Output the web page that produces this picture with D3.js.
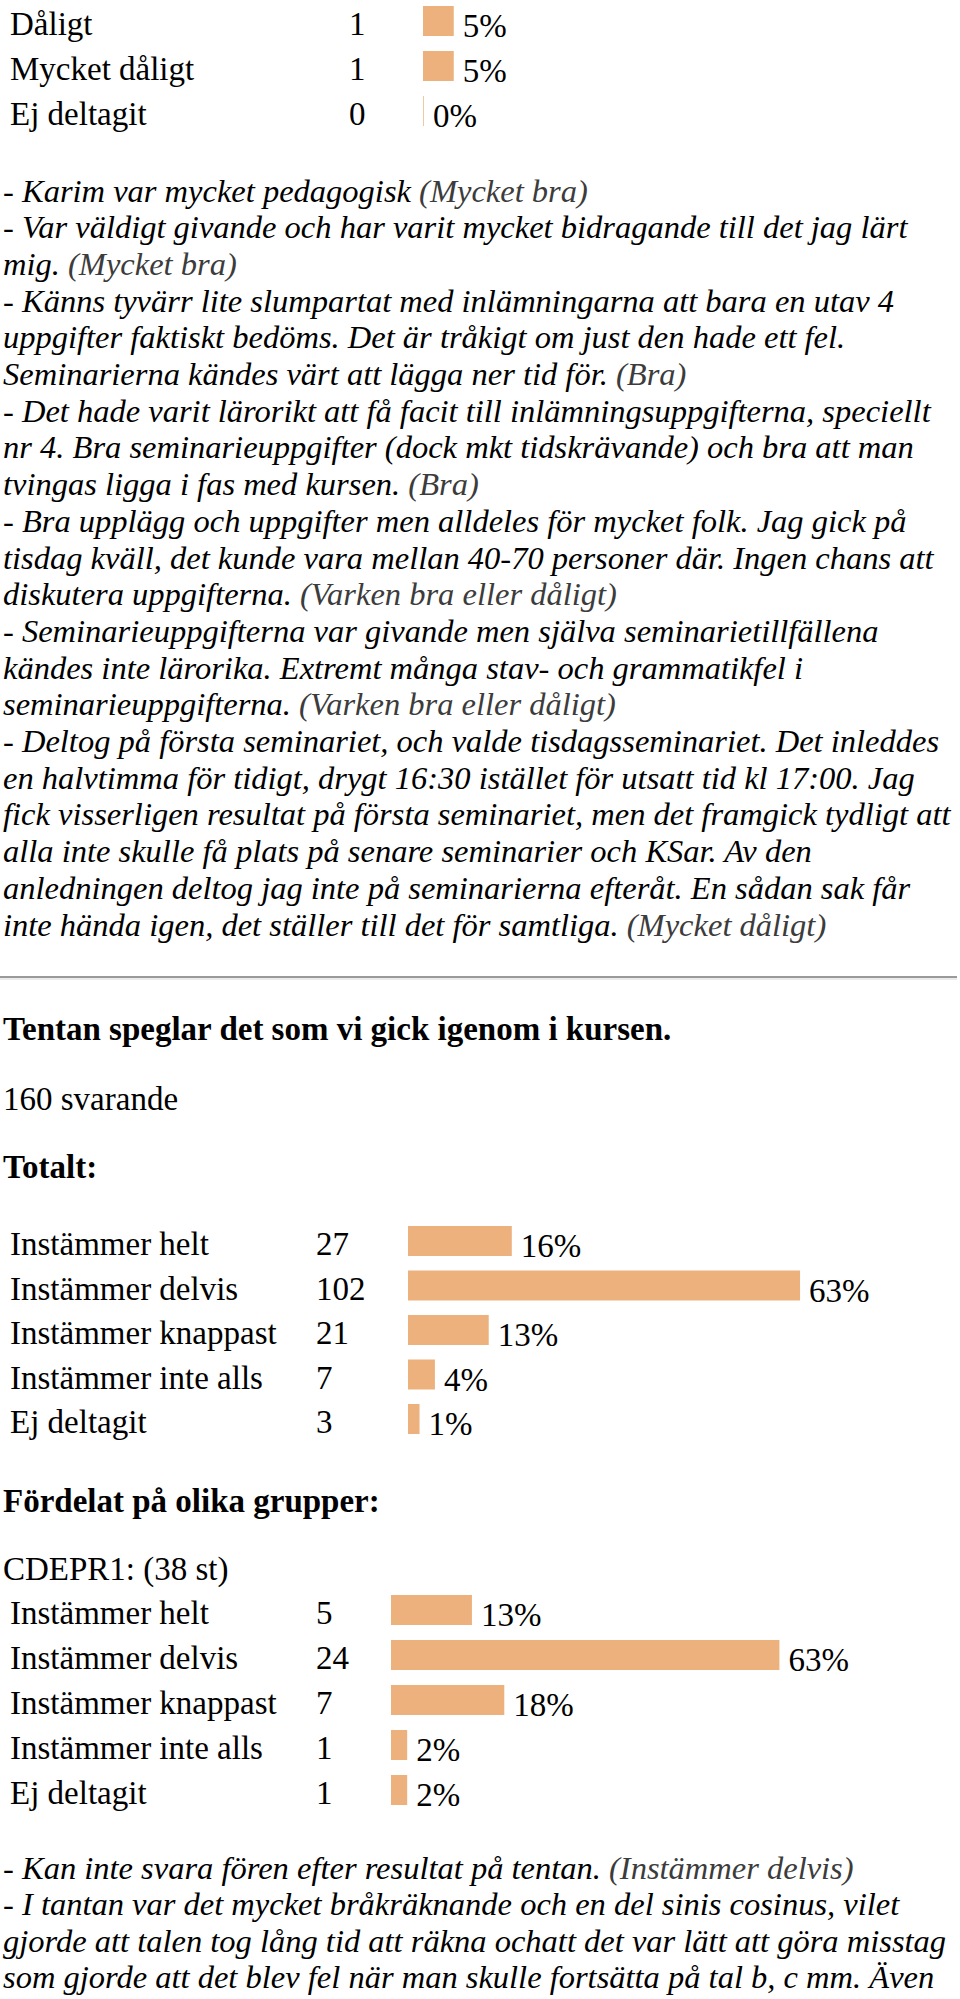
<!DOCTYPE html>
<html>
<head>
<meta charset="utf-8">
<script src="https://cdn.jsdelivr.net/npm/d3@7"></script>
<style>
  body { margin: 0; background: #fff; }
  svg text { font-family: "Liberation Serif", "Times New Roman", serif; font-size: 33px; fill: #000; }
  svg text.comment { font-size: 32.5px; font-style: italic; }
</style>
</head>
<body>
<div id="vis"></div>
<script>
// top table (tail of previous question)
var topLabels = ["Dåligt", "Mycket dåligt", "Ej deltagit"];
var topCounts = [1, 1, 0];
var topPct = ["5%", "5%", "0%"];
var topTotal = 20;

// Tentan speglar det som vi gick igenom i kursen.
var answers = ["Instämmer helt", "Instämmer delvis", "Instämmer knappast", "Instämmer inte alls", "Ej deltagit"];
var totalCounts = [27, 102, 21, 7, 3];
var totalPct = ["16%", "63%", "13%", "4%", "1%"];
var totalN = 160;

var groupName = "CDEPR1: (38 st)";
var groupCounts = [5, 24, 7, 1, 1];
var groupPct = ["13%", "63%", "18%", "2%", "2%"];
var groupN = 38;

// comment lines: [italic text, grade]
var comments1 = [
  ["- Karim var mycket pedagogisk ", "(Mycket bra)"],
  ["- Var väldigt givande och har varit mycket bidragande till det jag lärt", ""],
  ["mig. ", "(Mycket bra)"],
  ["- Känns tyvärr lite slumpartat med inlämningarna att bara en utav 4", ""],
  ["uppgifter faktiskt bedöms. Det är tråkigt om just den hade ett fel.", ""],
  ["Seminarierna kändes värt att lägga ner tid för. ", "(Bra)"],
  ["- Det hade varit lärorikt att få facit till inlämningsuppgifterna, speciellt", ""],
  ["nr 4. Bra seminarieuppgifter (dock mkt tidskrävande) och bra att man", ""],
  ["tvingas ligga i fas med kursen. ", "(Bra)"],
  ["- Bra upplägg och uppgifter men alldeles för mycket folk. Jag gick på", ""],
  ["tisdag kväll, det kunde vara mellan 40-70 personer där. Ingen chans att", ""],
  ["diskutera uppgifterna. ", "(Varken bra eller dåligt)"],
  ["- Seminarieuppgifterna var givande men själva seminarietillfällena", ""],
  ["kändes inte lärorika. Extremt många stav- och grammatikfel i", ""],
  ["seminarieuppgifterna. ", "(Varken bra eller dåligt)"],
  ["- Deltog på första seminariet, och valde tisdagsseminariet. Det inleddes", ""],
  ["en halvtimma för tidigt, drygt 16:30 istället för utsatt tid kl 17:00. Jag", ""],
  ["fick visserligen resultat på första seminariet, men det framgick tydligt att", ""],
  ["alla inte skulle få plats på senare seminarier och KSar. Av den", ""],
  ["anledningen deltog jag inte på seminarierna efteråt. En sådan sak får", ""],
  ["inte hända igen, det ställer till det för samtliga. ", "(Mycket dåligt)"]
];
var comments2 = [
  ["- Kan inte svara fören efter resultat på tentan. ", "(Instämmer delvis)"],
  ["- I tantan var det mycket bråkräknande och en del sinis cosinus, vilet", ""],
  ["gjorde att talen tog lång tid att räkna ochatt det var lätt att göra misstag", ""],
  ["som gjorde att det blev fel när man skulle fortsätta på tal b, c mm. Även", ""]
];

var width = 960, height = 1999;
var barColor = "#ecb17c";

var svg = d3.select("#vis").append("svg")
    .attr("width", width)
    .attr("height", height);

// 100% of a group = 615px
var x = d3.scaleLinear().domain([0, 1]).range([0, 615]);

function table(labels, counts, pct, total, opt) {
  var y = d3.scaleBand()
      .domain(labels)
      .range([opt.top, opt.top + labels.length * opt.step]);
  var rows = labels.map(function(d, i) {
    return {label: d, count: counts[i], pct: pct[i], share: counts[i] / total};
  });
  var g = svg.append("g");
  var row = g.selectAll(".row")
      .data(rows)
      .enter().append("g")
      .attr("transform", function(d) { return "translate(0," + y(d.label) + ")"; });

  row.append("text")
      .attr("x", 10)
      .text(function(d) { return d.label; });
  row.append("text")
      .attr("x", opt.countX)
      .text(function(d) { return d.count; });
  row.append("rect")
      .attr("x", opt.barX)
      .attr("y", -29)
      .attr("width", function(d) { return Math.max(1, x(d.share)); })
      .attr("height", 30)
      .style("fill", barColor)
      .style("opacity", function(d) { return d.count ? 1 : 0.7; });
  row.append("text")
      .attr("x", function(d) { return opt.barX + Math.max(1, x(d.share)) + 9; })
      .attr("y", 2)
      .text(function(d) { return d.pct; });
}

function comments(lines, top, step) {
  svg.append("g").selectAll("text")
      .data(lines)
      .enter().append("text")
      .attr("class", "comment")
      .attr("x", 3)
      .attr("y", function(d, i) { return top + i * step; })
      .each(function(d) {
        var t = d3.select(this);
        t.append("tspan").text(d[0]);
        if (d[1]) t.append("tspan").style("fill", "#3c3c3c").text(d[1]);
      });
}

table(topLabels, topCounts, topPct, topTotal, {top: 35, step: 45, countX: 349, barX: 423});

comments(comments1, 201.5, 36.7);

// separator
svg.append("line").attr("x1", 0).attr("x2", 957).attr("y1", 977).attr("y2", 977)
    .style("stroke", "#9a9a9a").style("stroke-width", 2);
svg.append("line").attr("x1", 0).attr("x2", 957).attr("y1", 979).attr("y2", 979)
    .style("stroke", "#d8d8d8").style("stroke-width", 1);

svg.append("text").attr("x", 3).attr("y", 1040)
    .style("font-weight", "bold")
    .text("Tentan speglar det som vi gick igenom i kursen.");
svg.append("text").attr("x", 3).attr("y", 1110)
    .text(totalN + " svarande");
svg.append("text").attr("x", 3).attr("y", 1178)
    .style("font-weight", "bold")
    .text("Totalt:");

table(answers, totalCounts, totalPct, totalN, {top: 1255, step: 44.5, countX: 316, barX: 408});

svg.append("text").attr("x", 3).attr("y", 1512)
    .style("font-weight", "bold")
    .text("Fördelat på olika grupper:");
svg.append("text").attr("x", 3).attr("y", 1580)
    .text(groupName);

table(answers, groupCounts, groupPct, groupN, {top: 1624, step: 45, countX: 316, barX: 391});

comments(comments2, 1879, 36.3);
</script>
</body>
</html>
